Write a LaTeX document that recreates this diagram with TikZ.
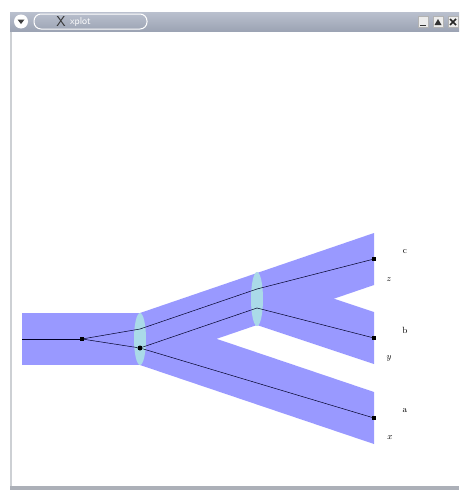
\documentclass[tikz,border=0pt]{standalone}
\usepackage{tikz}
\usetikzlibrary{positioning}
\definecolor{bandblue}{RGB}{153,153,255}
\definecolor{lenscyan}{RGB}{170,218,232}
\definecolor{bartop}{RGB}{186,192,206}
\definecolor{barbot}{RGB}{156,164,180}
\definecolor{framegray}{RGB}{172,176,184}

\begin{document}
\begin{tikzpicture}[x=1pt, y=-1pt,
    pin/.style={fill=black, inner sep=0pt, minimum size=4pt},
    joint/.style={circle, fill=black, inner sep=0pt, minimum size=5pt},
    lbl/.style={font=\small, inner sep=0pt},
    wire/.style={black!85!blue, line width=0.5pt},
    lens/.style={fill=lenscyan},
    winbtn/.style={draw=gray!60, fill=gray!15, inner sep=0pt, minimum width=10pt, minimum height=11pt}]
    \useasboundingbox (0,0) rectangle (459,490);
    \fill[white] (0,0) rectangle (459,490);

    % Window frame
    \fill[framegray!60] (10,31) rectangle (12,487);
    \fill[framegray] (10,486) rectangle (459,490);
    \shade[top color=bartop, bottom color=barbot] (10,12) rectangle (459,31);

    % Title bar controls
    \fill[white] (21,21.5) circle (7pt);
    \fill[black!75] (17.5,19.5) -- (24.5,19.5) -- (21,24) -- cycle;
    \draw[white, line width=1pt, rounded corners=7pt] (34,14) rectangle (147,29);
    \node[text=gray!40!black, font=\Large\sffamily, inner sep=0pt] (xlogo) at (61,21.5) {X};
    \node[text=white, font=\sffamily, inner sep=0pt, right=4pt of xlogo] (title) {xplot};
    \node[winbtn] (minbtn) at (423,22) {};
    \node[winbtn] (maxbtn) at (438,22) {};
    \node[winbtn] (closebtn) at (453,22) {};
    \draw[black!80, line width=1.2pt] (420,25.5) -- (426,25.5);
    \fill[black!80] (434.5,25) -- (441.5,25) -- (438,19) -- cycle;
    \draw[black!85, line width=1.5pt] (450,19) -- (456,25) (450,25) -- (456,19);

    % Bands
    \fill[bandblue] (22,313) rectangle (140,365);
    \fill[bandblue] (140,313) -- (374,233) -- (374,285) -- (140,365) -- cycle;
    \fill[bandblue] (140,313) -- (374,392) -- (374,444) -- (140,365) -- cycle;
    \fill[bandblue] (257,273) -- (374,312) -- (374,364) -- (257,325) -- cycle;

    % Lenses
    \fill[lens] (140,339) ellipse [x radius=6pt, y radius=26pt];
    \fill[lens] (257,299) ellipse [x radius=6pt, y radius=27pt];

    % Points
    \coordinate (inlet) at (22,339);
    \node[pin] (split) at (82,339) {};
    \coordinate (lensAup) at (140,329);
    \node[joint] (lensAlow) at (140,348) {};
    \coordinate (lensBup) at (257,289);
    \coordinate (lensBlow) at (257,308);
    \node[pin] (endc) at (374,259) {};
    \node[pin] (endb) at (374,338) {};
    \node[pin] (enda) at (374,418) {};

    % Rays
    \draw[wire] (inlet) -- (split);
    \draw[wire] (split) -- (lensAup) -- (lensBup) -- (endc);
    \draw[wire] (split) -- (lensAlow) -- (lensBlow) -- (endb);
    \draw[wire] (lensAlow) -- (enda);

    % Labels
    \node[lbl] (labc) at (405,252) {c};
    \node[lbl] (labz) at (389,280) {$z$};
    \node[lbl] (labb) at (405,330) {b};
    \node[lbl] (laby) at (389,358) {$y$};
    \node[lbl] (laba) at (405,411) {a};
    \node[lbl] (labx) at (390,438) {$x$};
\end{tikzpicture}
\end{document}
